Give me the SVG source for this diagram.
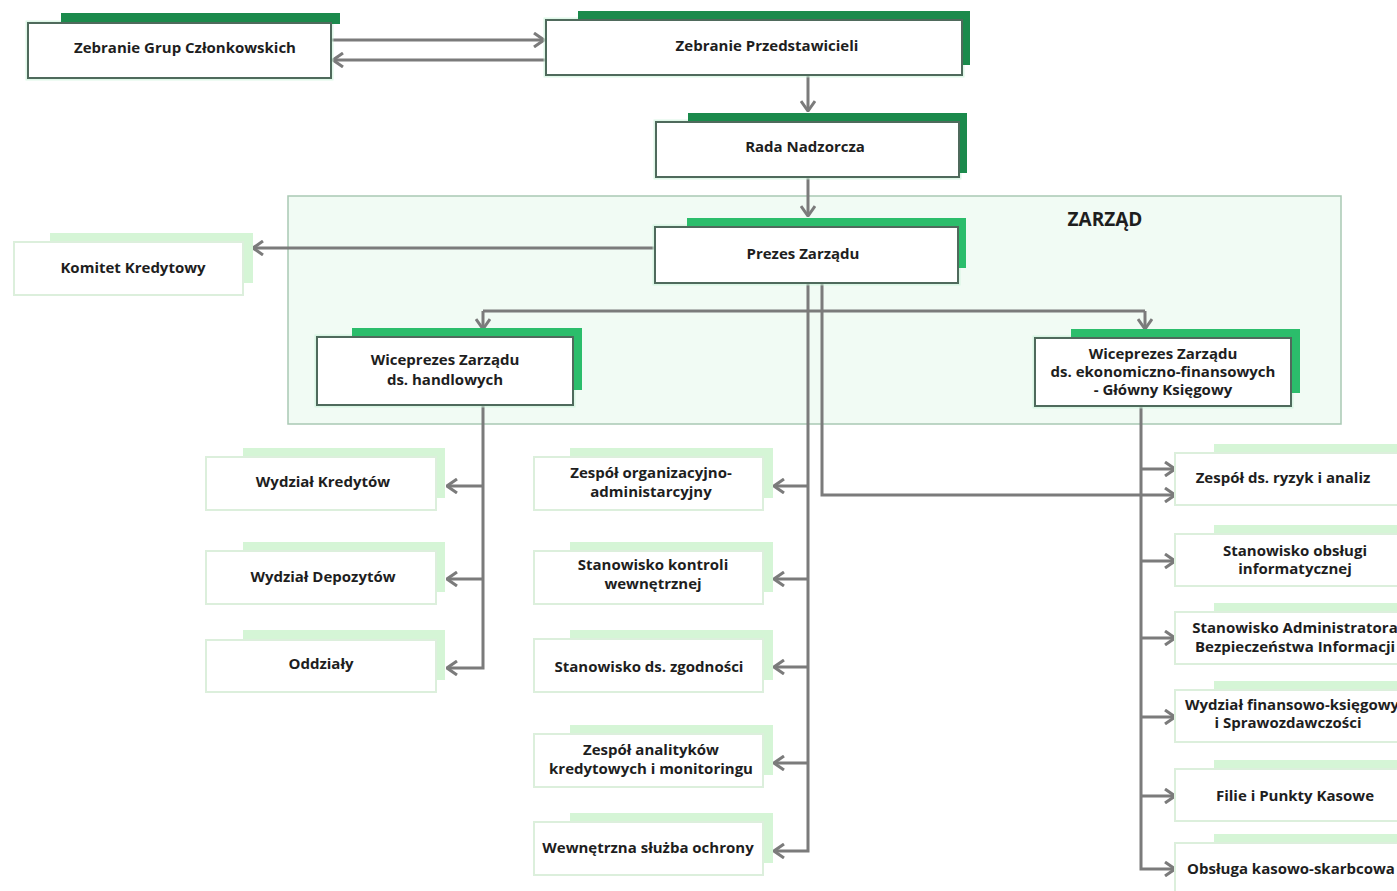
<svg xmlns="http://www.w3.org/2000/svg" width="1397" height="891" viewBox="0 0 1397 891">
<defs>
<style>
text{font-family:"Open Sans","Liberation Sans",sans-serif;font-weight:700;font-size:15px;fill:#1e1e1e;text-anchor:middle}
.tabD{fill:#1b8a4c}
.tabM{fill:#2bbd6b}
.tabL{fill:#d5f5d6}
.boxD{fill:#fff;stroke:#4f6a5c;stroke-width:2}
.boxL{fill:#fff;stroke:#dcefdc;stroke-width:2}
.glow{fill:none;stroke:#c9f3d8;stroke-width:5;opacity:0.6}
.con{fill:none;stroke:#7b7b7b;stroke-width:3}
</style>
<marker id="ah" viewBox="0 0 12 16" refX="11" refY="8" markerWidth="12" markerHeight="16" markerUnits="userSpaceOnUse" orient="auto">
<path d="M1,1 L11,8 L1,15" fill="none" stroke="#7b7b7b" stroke-width="3"/>
</marker>
</defs>
<rect width="1397" height="891" fill="#fff"/>

<g id="zarzad">
<rect x="288" y="196" width="1053" height="228" fill="#f1fbf4" stroke="#a9c9b4" stroke-width="1.5"/>
<text x="1105" y="226" style="font-size:19px;font-weight:700">ZARZĄD</text>
</g>

<g id="connectors">
<path class="con" d="M331,40 H544" marker-end="url(#ah)"/>
<path class="con" d="M545,60 H333" marker-end="url(#ah)"/>
<path class="con" d="M808,75 V111" marker-end="url(#ah)"/>
<path class="con" d="M808,177 V216" marker-end="url(#ah)"/>
<path class="con" d="M655,248 H253" marker-end="url(#ah)"/>
<path class="con" d="M483,311 H1145"/>
<path class="con" d="M483,311 V329" marker-end="url(#ah)"/>
<path class="con" d="M1145,311 V329" marker-end="url(#ah)"/>
<path class="con" d="M808,283 V851 H774" marker-end="url(#ah)"/>
<path class="con" d="M808,486 H774" marker-end="url(#ah)"/>
<path class="con" d="M808,579 H774" marker-end="url(#ah)"/>
<path class="con" d="M808,667 H774" marker-end="url(#ah)"/>
<path class="con" d="M808,763 H774" marker-end="url(#ah)"/>
<path class="con" d="M822,283 V495 H1175" marker-end="url(#ah)"/>
<path class="con" d="M483,405 V668 H447" marker-end="url(#ah)"/>
<path class="con" d="M483,486 H447" marker-end="url(#ah)"/>
<path class="con" d="M483,579 H447" marker-end="url(#ah)"/>
<path class="con" d="M1141,406 V869 H1175" marker-end="url(#ah)"/>
<path class="con" d="M1141,469 H1175" marker-end="url(#ah)"/>
<path class="con" d="M1141,561 H1175" marker-end="url(#ah)"/>
<path class="con" d="M1141,638 H1175" marker-end="url(#ah)"/>
<path class="con" d="M1141,717 H1175" marker-end="url(#ah)"/>
<path class="con" d="M1141,796 H1175" marker-end="url(#ah)"/>
</g>

<g id="n-zgc">
<rect class="glow" x="28" y="23" width="303" height="55"/>
<rect class="tabD" x="61" y="13" width="279" height="11"/>
<rect class="boxD" x="28" y="23" width="303" height="55"/>
<text x="185" y="53">Zebranie Grup Członkowskich</text>
</g>

<g id="n-zp">
<rect class="glow" x="546" y="20" width="416" height="55"/>
<rect class="tabD" x="578" y="11" width="392" height="54"/>
<rect class="boxD" x="546" y="20" width="416" height="55"/>
<text x="767" y="51">Zebranie Przedstawicieli</text>
</g>

<g id="n-rn">
<rect class="glow" x="656" y="122" width="303" height="55"/>
<rect class="tabD" x="688" y="113" width="279" height="60"/>
<rect class="boxD" x="656" y="122" width="303" height="55"/>
<text x="805" y="152">Rada Nadzorcza</text>
</g>

<g id="n-pz">
<rect class="glow" x="655" y="227" width="303" height="56"/>
<rect class="tabM" x="687" y="218" width="279" height="50"/>
<rect class="boxD" x="655" y="227" width="303" height="56"/>
<text x="803" y="259">Prezes Zarządu</text>
</g>

<g id="n-kk">
<rect class="tabL" x="50" y="233" width="203" height="50"/>
<rect class="boxL" x="14" y="242" width="229" height="53"/>
<text x="133" y="273">Komitet Kredytowy</text>
</g>

<g id="n-wh">
<rect class="glow" x="317" y="337" width="256" height="68"/>
<rect class="tabM" x="352" y="328" width="230" height="62"/>
<rect class="boxD" x="317" y="337" width="256" height="68"/>
<text x="445" y="365">Wiceprezes Zarządu</text>
<text x="445" y="385">ds. handlowych</text>
</g>

<g id="n-wef">
<rect class="glow" x="1035" y="338" width="256" height="68"/>
<rect class="tabM" x="1071" y="329" width="229" height="64"/>
<rect class="boxD" x="1035" y="338" width="256" height="68"/>
<text x="1163" y="359">Wiceprezes Zarządu</text>
<text x="1163" y="377">ds. ekonomiczno-finansowych</text>
<text x="1163" y="395">- Główny Księgowy</text>
</g>

<g id="n-wk">
<rect class="tabL" x="243" y="448" width="202" height="50"/>
<rect class="boxL" x="206" y="457" width="230" height="53"/>
<text x="323" y="487">Wydział Kredytów</text>
</g>
<g id="n-wd">
<rect class="tabL" x="243" y="542" width="202" height="50"/>
<rect class="boxL" x="206" y="551" width="230" height="53"/>
<text x="323" y="582">Wydział Depozytów</text>
</g>
<g id="n-od">
<rect class="tabL" x="243" y="630" width="202" height="50"/>
<rect class="boxL" x="206" y="640" width="230" height="52"/>
<text x="321" y="669">Oddziały</text>
</g>

<g id="n-zoa">
<rect class="tabL" x="570" y="448" width="203" height="50"/>
<rect class="boxL" x="534" y="457" width="229" height="53"/>
<text x="651" y="478">Zespół organizacyjno-</text>
<text x="651" y="497">administarcyjny</text>
</g>
<g id="n-skw">
<rect class="tabL" x="570" y="542" width="203" height="50"/>
<rect class="boxL" x="534" y="551" width="229" height="53"/>
<text x="653" y="570">Stanowisko kontroli</text>
<text x="653" y="589">wewnętrznej</text>
</g>
<g id="n-szg">
<rect class="tabL" x="570" y="630" width="203" height="50"/>
<rect class="boxL" x="534" y="639" width="229" height="53"/>
<text x="649" y="672">Stanowisko ds. zgodności</text>
</g>
<g id="n-zak">
<rect class="tabL" x="570" y="725" width="203" height="50"/>
<rect class="boxL" x="534" y="734" width="229" height="53"/>
<text x="651" y="755">Zespół analityków</text>
<text x="651" y="774">kredytowych i monitoringu</text>
</g>
<g id="n-wso">
<rect class="tabL" x="570" y="813" width="203" height="50"/>
<rect class="boxL" x="534" y="822" width="229" height="53"/>
<text x="648" y="853">Wewnętrzna służba ochrony</text>
</g>

<g id="n-zra">
<rect class="tabL" x="1214" y="444" width="200" height="50"/>
<rect class="boxL" x="1175" y="453" width="240" height="52"/>
<text x="1283" y="483">Zespół ds. ryzyk i analiz</text>
</g>
<g id="n-soi">
<rect class="tabL" x="1214" y="525" width="200" height="50"/>
<rect class="boxL" x="1175" y="534" width="240" height="52"/>
<text x="1295" y="556">Stanowisko obsługi</text>
<text x="1295" y="574">informatycznej</text>
</g>
<g id="n-sabi">
<rect class="tabL" x="1214" y="603" width="200" height="50"/>
<rect class="boxL" x="1175" y="612" width="240" height="52"/>
<text x="1295" y="633">Stanowisko Administratora</text>
<text x="1295" y="652">Bezpieczeństwa Informacji</text>
</g>
<g id="n-wfk">
<rect class="tabL" x="1214" y="681" width="200" height="50"/>
<rect class="boxL" x="1175" y="690" width="240" height="52"/>
<text x="1292" y="710">Wydział finansowo-księgowy</text>
<text x="1288" y="728">i Sprawozdawczości</text>
</g>
<g id="n-fpk">
<rect class="tabL" x="1214" y="760" width="200" height="50"/>
<rect class="boxL" x="1175" y="769" width="240" height="52"/>
<text x="1295" y="801">Filie i Punkty Kasowe</text>
</g>
<g id="n-oks">
<rect class="tabL" x="1214" y="834" width="200" height="50"/>
<rect class="boxL" x="1175" y="843" width="240" height="52"/>
<text x="1291" y="874">Obsługa kasowo-skarbcowa</text>
</g>
</svg>
